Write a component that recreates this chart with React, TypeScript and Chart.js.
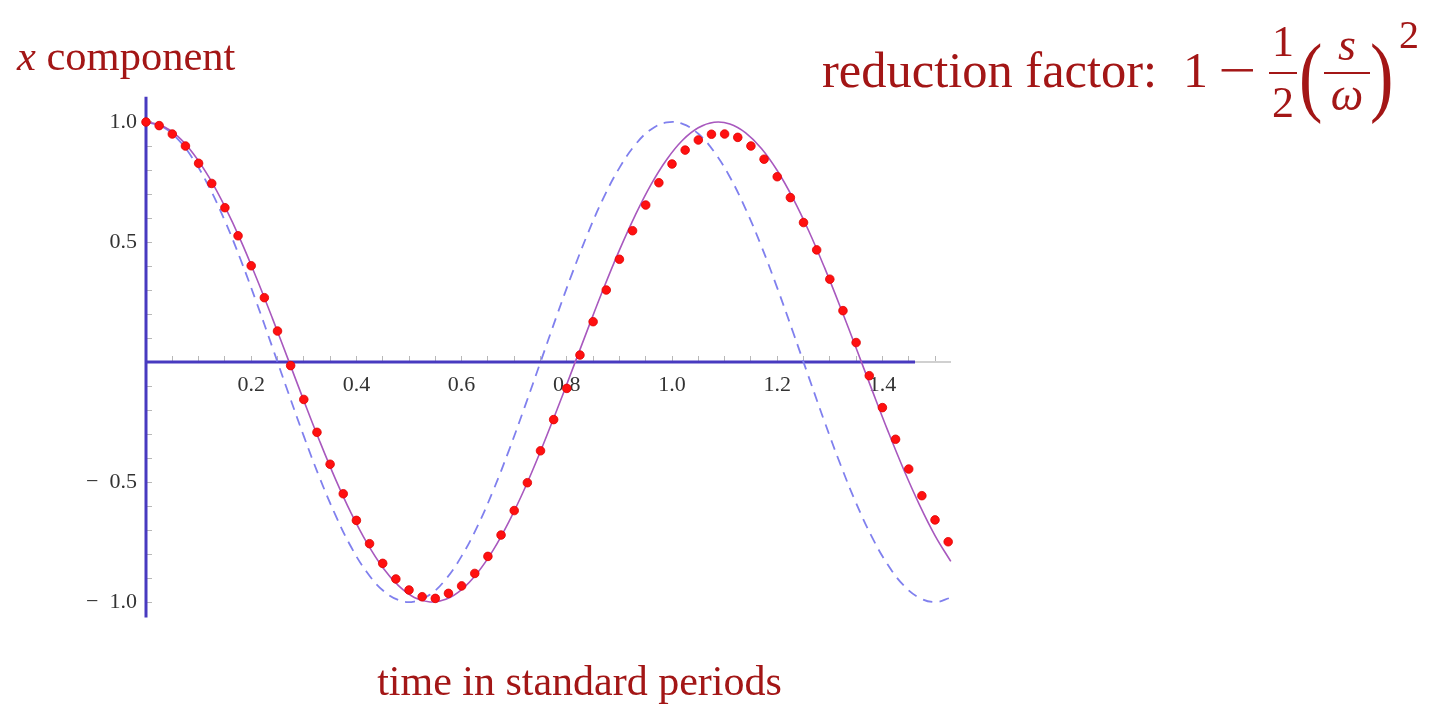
import React, { useEffect, useRef } from 'react';
import { Chart, registerables } from 'chart.js';

Chart.register(...registerables);

// Time samples (in standard periods) for the two continuous curves
const sampleTimes = [
  0, 0.03, 0.06, 0.09, 0.12, 0.15, 0.18, 0.21, 0.24, 0.27, 0.3, 0.33, 0.36,
  0.39, 0.42, 0.45, 0.48, 0.51, 0.54, 0.57, 0.6, 0.63, 0.66, 0.69, 0.72, 0.75,
  0.78, 0.81, 0.84, 0.87, 0.9, 0.93, 0.96, 0.99, 1.02, 1.05, 1.08, 1.11, 1.14,
  1.17, 1.2, 1.23, 1.26, 1.29, 1.32, 1.35, 1.38, 1.41, 1.44, 1.47, 1.5, 1.53,
];

// Undamped oscillation at the standard period (dashed)
const standardCurve = [
  1.0, 0.982, 0.93, 0.844, 0.729, 0.588, 0.426, 0.249, 0.063, -0.125, -0.309,
  -0.482, -0.637, -0.771, -0.876, -0.951, -0.992, -0.998, -0.969, -0.905,
  -0.809, -0.685, -0.536, -0.368, -0.187, 0.0, 0.187, 0.368, 0.536, 0.685,
  0.809, 0.905, 0.969, 0.998, 0.992, 0.951, 0.876, 0.771, 0.637, 0.482, 0.309,
  0.125, -0.063, -0.249, -0.426, -0.588, -0.729, -0.844, -0.93, -0.982, -1.0,
  -0.982,
];

// Oscillation with the reduced frequency (solid)
const reducedCurve = [
  1.0, 0.985, 0.941, 0.868, 0.769, 0.647, 0.507, 0.35, 0.184, 0.012, -0.161,
  -0.329, -0.487, -0.63, -0.754, -0.856, -0.932, -0.981, -1.0, -0.989, -0.948,
  -0.879, -0.784, -0.665, -0.527, -0.372, -0.206, -0.035, 0.138, 0.307, 0.466,
  0.611, 0.739, 0.844, 0.924, 0.976, 0.999, 0.992, 0.955, 0.89, 0.798, 0.682,
  0.546, 0.393, 0.229, 0.058, -0.115, -0.285, -0.446, -0.593, -0.723, -0.831,
];

// Numerically integrated points (red dots)
const dotTimes = [
  0, 0.025, 0.05, 0.075, 0.1, 0.125, 0.15, 0.175, 0.2, 0.225, 0.25, 0.275, 0.3,
  0.325, 0.35, 0.375, 0.4, 0.425, 0.45, 0.475, 0.5, 0.525, 0.55, 0.575, 0.6,
  0.625, 0.65, 0.675, 0.7, 0.725, 0.75, 0.775, 0.8, 0.825, 0.85, 0.875, 0.9,
  0.925, 0.95, 0.975, 1.0, 1.025, 1.05, 1.075, 1.1, 1.125, 1.15, 1.175, 1.2,
  1.225, 1.25, 1.275, 1.3, 1.325, 1.35, 1.375, 1.4, 1.425, 1.45, 1.475, 1.5,
  1.525,
];
const dotValues = [
  1.0, 0.985, 0.95, 0.9, 0.828, 0.744, 0.643, 0.526, 0.401, 0.268, 0.129,
  -0.015, -0.156, -0.293, -0.426, -0.549, -0.66, -0.757, -0.839, -0.904, -0.95,
  -0.978, -0.985, -0.964, -0.933, -0.881, -0.81, -0.721, -0.619, -0.503, -0.37,
  -0.24, -0.11, 0.029, 0.168, 0.3, 0.428, 0.547, 0.654, 0.747, 0.825, 0.883,
  0.925, 0.949, 0.95, 0.936, 0.9, 0.845, 0.772, 0.685, 0.581, 0.467, 0.345,
  0.214, 0.081, -0.057, -0.19, -0.322, -0.446, -0.557, -0.658, -0.749,
];

// Heavy axis strokes drawn as data lines
const baselineTimes = [0, 1.462];
const verticalAxisSpan = [-1.065, 1.105];

// Axis ticks
const xTickValues = [
  0, 0.05, 0.1, 0.15, 0.2, 0.25, 0.3, 0.35, 0.4, 0.45, 0.5, 0.55, 0.6, 0.65,
  0.7, 0.75, 0.8, 0.85, 0.9, 0.95, 1.0, 1.05, 1.1, 1.15, 1.2, 1.25, 1.3, 1.35,
  1.4, 1.45, 1.5,
];
const xLabeledTicks = [0.2, 0.4, 0.6, 0.8, 1.0, 1.2, 1.4];
const xTickText = ['0.2', '0.4', '0.6', '0.8', '1.0', '1.2', '1.4'];
const yTickValues = [
  -1.0, -0.9, -0.8, -0.7, -0.6, -0.5, -0.4, -0.3, -0.2, -0.1, 0, 0.1, 0.2, 0.3,
  0.4, 0.5, 0.6, 0.7, 0.8, 0.9, 1.0,
];
const yLabeledTicks = [-1.0, -0.5, 0.5, 1.0];
const yTickText = ['\u2212\u20021.0', '\u2212\u20020.5', '0.5', '1.0'];

const SERIF = '"Liberation Serif", "DejaVu Serif", serif';
const TITLE_RED = '#a31616';

function labelFor(v: number, values: number[], texts: string[]): string {
  const i = values.findIndex((t) => Math.abs(t - v) < 1e-6);
  return i >= 0 ? texts[i] : '';
}

function pairs(xs: number[], ys: number[]) {
  return xs.map((x, i) => ({ x, y: ys[i] }));
}

type TxtProps = {
  x: number;
  baseline: number;
  size: number;
  italic?: boolean;
  center?: boolean;
  scaleX?: number;
  children: React.ReactNode;
};

// Places a line of text by its alphabetic baseline
function Txt({ x, baseline, size, italic, center, scaleX, children }: TxtProps) {
  const transforms: string[] = [];
  if (center) transforms.push('translateX(-50%)');
  if (scaleX) transforms.push(`scaleX(${scaleX})`);
  return (
    <span
      style={{
        position: 'absolute',
        left: x,
        top: baseline - 0.8375 * size,
        fontFamily: SERIF,
        fontSize: size,
        lineHeight: `${size}px`,
        fontStyle: italic ? 'italic' : 'normal',
        color: TITLE_RED,
        whiteSpace: 'nowrap',
        transform: transforms.length ? transforms.join(' ') : undefined,
        transformOrigin: center ? 'center' : 'left',
      }}
    >
      {children}
    </span>
  );
}

function Bar({ x1, x2, y }: { x1: number; x2: number; y: number }) {
  return (
    <div
      style={{
        position: 'absolute',
        left: x1,
        top: y - 1,
        width: x2 - x1,
        height: 2,
        background: TITLE_RED,
      }}
    />
  );
}

export default function App() {
  const canvasRef = useRef<HTMLCanvasElement | null>(null);

  useEffect(() => {
    const canvas = canvasRef.current;
    if (!canvas) return;
    const tickFont = { family: SERIF, size: 22 };

    const chart = new Chart(canvas, {
      type: 'line',
      data: {
        datasets: [
          {
            data: pairs(dotTimes, dotValues),
            showLine: false,
            pointRadius: 4.3,
            pointBackgroundColor: '#ff1010',
            pointBorderColor: '#e00000',
            pointBorderWidth: 0.8,
            clip: false,
            order: 0,
          },
          {
            data: pairs(sampleTimes, reducedCurve),
            borderColor: 'rgb(168, 88, 190)',
            borderWidth: 1.6,
            pointRadius: 0,
            tension: 0.4,
            clip: false,
            order: 1,
          },
          {
            data: pairs(sampleTimes, standardCurve),
            borderColor: 'rgb(128, 128, 238)',
            borderWidth: 1.8,
            borderDash: [10, 7],
            pointRadius: 0,
            tension: 0.4,
            clip: false,
            order: 2,
          },
          {
            data: baselineTimes.map((x) => ({ x, y: 0 })),
            borderColor: 'rgb(72, 58, 192)',
            borderWidth: 3,
            pointRadius: 0,
            clip: false,
            order: 3,
          },
          {
            data: verticalAxisSpan.map((y) => ({ x: 0, y })),
            borderColor: 'rgb(72, 58, 192)',
            borderWidth: 3,
            pointRadius: 0,
            clip: false,
            order: 3,
          },
        ],
      },
      options: {
        animation: false,
        responsive: false,
        devicePixelRatio: 1,
        events: [],
        layout: { padding: { left: 86, right: 485.2, top: 95.6, bottom: 85.2 } },
        plugins: { legend: { display: false }, tooltip: { enabled: false } },
        scales: {
          x: {
            type: 'linear',
            min: 0,
            max: 1.53,
            position: { y: 0 } as any,
            afterBuildTicks: (scale: any) => {
              scale.ticks = xTickValues.map((value) => ({ value }));
            },
            ticks: {
              autoSkip: false,
              maxRotation: 0,
              padding: 17,
              color: '#333333',
              font: tickFont,
              callback: (v: any) => labelFor(Number(v), xLabeledTicks, xTickText),
            },
            grid: {
              drawOnChartArea: false,
              drawTicks: true,
              tickLength: -7,
              tickColor: '#b8b8b8',
              tickWidth: 1,
            },
            border: { display: true, color: '#d0d0d0', width: 2 },
          },
          y: {
            type: 'linear',
            min: -1.07,
            max: 1.11,
            position: 'left',
            afterBuildTicks: (scale: any) => {
              scale.ticks = yTickValues.map((value) => ({ value }));
            },
            afterFit: (scale: any) => {
              scale.width = 60;
            },
            ticks: {
              autoSkip: false,
              padding: 15,
              color: '#333333',
              font: tickFont,
              callback: (v: any) => labelFor(Number(v), yLabeledTicks, yTickText),
            },
            grid: {
              drawOnChartArea: false,
              drawTicks: true,
              tickLength: -6,
              tickColor: '#b8b8b8',
              tickWidth: 1,
            },
            border: { display: false },
          },
        },
      },
    });

    return () => chart.destroy();
  }, []);

  return (
    <div
      style={{
        position: 'absolute',
        left: 0,
        top: 0,
        width: 1436,
        height: 704,
        background: '#ffffff',
        overflow: 'hidden',
      }}
    >
      <canvas
        ref={canvasRef}
        width={1436}
        height={704}
        style={{ position: 'absolute', left: 0, top: 0, width: 1436, height: 704 }}
      />

      {/* vertical axis title */}
      <Txt x={17} baseline={71} size={42.5}>
        <span style={{ fontStyle: 'italic' }}>x</span> component
      </Txt>

      {/* horizontal axis title */}
      <Txt x={579.5} baseline={695} size={42} center>
        time in standard periods
      </Txt>

      {/* reduction factor formula */}
      <Txt x={822} baseline={87} size={50.5}>
        reduction factor:
      </Txt>
      <Txt x={1183} baseline={87} size={50}>
        1
      </Txt>
      <Txt x={1218} baseline={87} size={50} scaleX={1.35}>
        {'\u2212'}
      </Txt>
      <Txt x={1283} baseline={57} size={44} center>
        1
      </Txt>
      <Bar x1={1269} x2={1297} y={73} />
      <Txt x={1283} baseline={118} size={44} center>
        2
      </Txt>
      <Txt x={1299} baseline={106} size={88} scaleX={0.8}>
        (
      </Txt>
      <Txt x={1347} baseline={61} size={46} italic center>
        s
      </Txt>
      <Bar x1={1324} x2={1370} y={73} />
      <Txt x={1347} baseline={111} size={46} italic center>
        {'\u03c9'}
      </Txt>
      <Txt x={1370} baseline={106} size={88} scaleX={0.8}>
        )
      </Txt>
      <Txt x={1399} baseline={48} size={40}>
        2
      </Txt>
    </div>
  );
}
